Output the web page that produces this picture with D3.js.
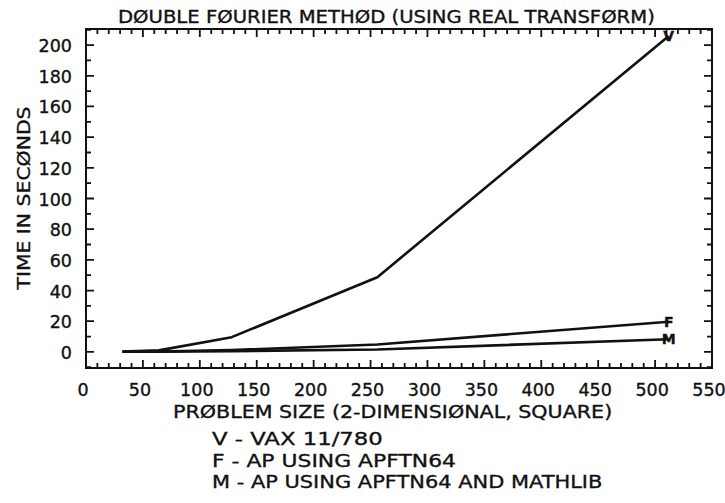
<!DOCTYPE html>
<html>
<head>
<meta charset="utf-8">
<script src="https://cdn.jsdelivr.net/npm/d3@7"></script>
<style>
  body { margin: 0; background: #fff; }
  text { font-family: "DejaVu Sans", sans-serif; fill: #111; stroke: #111; stroke-width: 0.35; }
</style>
</head>
<body>
<div id="chart"></div>
<script>
// problem sizes and timings (seconds)
var sizes = [32, 64, 128, 256, 512];
var vaxTimes = [0.3, 1.0, 9.6, 48.7, 206];
var apTimes = [0.1, 0.3, 1.2, 4.8, 19.7];
var mathlibTimes = [0.1, 0.2, 0.5, 1.6, 8.2];
var seriesMarks = ["V", "F", "M"];

var xTickLabels = [0, 50, 100, 150, 200, 250, 300, 350, 400, 450, 500, 550];
var yTickLabels = [0, 20, 40, 60, 80, 100, 120, 140, 160, 180, 200];
var legendLines = [
    "V - VAX 11/780",
    "F - AP USING APFTN64",
    "M - AP USING APFTN64 AND MATHLIB"
];

var width = 725, height = 503;
var charW = 12.2; // plotter font is monospaced
var svg = d3.select("#chart").append("svg")
    .attr("width", width)
    .attr("height", height)
    .style("background-color", "#fff");

// scales, frame is 0..550 by about -10..210
var x = d3.scaleLinear().domain([0, 550]).range([86, 712]);
var y = d3.scaleLinear().domain([-10.5, 210.5]).range([368, 29]);

// minor ticks every 10
var xMinor = d3.range(0, 551, 10);
var yMinor = d3.range(-10, 211, 10);
var x0 = x.range()[0], x1 = x.range()[1], yb = y.range()[0], yt = y.range()[1];

//Draw the frame
svg.append("rect")
    .attr("x", x0)
    .attr("y", yt)
    .attr("width", x1 - x0)
    .attr("height", yb - yt)
    .attr("fill", "none")
    .attr("stroke", "#111")
    .attr("stroke-width", 2);

//Draw the ticks on all four sides, as one path
var tickPath = d3.path();
xMinor.forEach(function (d) {
    var len = d % 50 == 0 ? 8 : 5;
    tickPath.moveTo(x(d), yb); tickPath.lineTo(x(d), yb - len);
    tickPath.moveTo(x(d), yt); tickPath.lineTo(x(d), yt + len);
});
yMinor.forEach(function (d) {
    var len = d % 20 == 0 ? 8 : 5;
    tickPath.moveTo(x0, y(d)); tickPath.lineTo(x0 + len, y(d));
    tickPath.moveTo(x1, y(d)); tickPath.lineTo(x1 - len, y(d));
});
svg.append("path")
    .attr("d", tickPath.toString())
    .attr("fill", "none")
    .attr("stroke", "#111")
    .attr("stroke-width", 1.8);

/* tick labels */
svg.selectAll("text.xl").data(xTickLabels).enter().append("text")
    .attr("class", "xl")
    .attr("x", function (d) { return x(d) - 3; })
    .attr("y", 396)
    .attr("text-anchor", "middle")
    .attr("font-size", 17.5)
    .text(function (d) { return d; });
svg.selectAll("text.yl").data(yTickLabels).enter().append("text")
    .attr("class", "yl")
    .attr("x", 72)
    .attr("y", function (d) { return y(d) + 7; })
    .attr("text-anchor", "end")
    .attr("font-size", 17.5)
    .text(function (d) { return d; });

/* lines */
var allSeries = [vaxTimes, apTimes, mathlibTimes];
var line = d3.line()
    .x(function (d, i) { return x(sizes[i]); })
    .y(function (d) { return y(d); });
svg.selectAll("path.series").data(allSeries).enter().append("path")
    .attr("class", "series")
    .attr("d", function (d) { return line(d); })
    .attr("fill", "none")
    .attr("stroke", "#111")
    .attr("stroke-width", 2.6)
    .attr("stroke-linejoin", "round");

// marker letter at the end of each line
svg.selectAll("text.mk").data(allSeries).enter().append("text")
    .attr("class", "mk")
    .attr("x", function (d) { return x(sizes[sizes.length - 1]); })
    .attr("y", function (d) { return y(d[d.length - 1]) + 5; })
    .attr("text-anchor", "middle")
    .attr("font-size", 14)
    .attr("font-weight", "bold")
    .text(function (d, i) { return seriesMarks[i]; });

/* titles */
function fixedText(str, xx, yy, size) {
    return svg.append("text")
        .attr("x", xx).attr("y", yy)
        .attr("font-size", size)
        .attr("textLength", str.length * charW)
        .attr("lengthAdjust", "spacingAndGlyphs")
        .text(str);
}
fixedText("DØUBLE FØURIER METHØD (USING REAL TRANSFØRM)", 118, 23, 17);
fixedText("PRØBLEM SIZE (2-DIMENSIØNAL, SQUARE)", 173, 418, 17.5);
legendLines.forEach(function (s, i) {
    fixedText(s, 212, 445 + i * 21.5, 18);
});

var yTitle = "TIME IN SECØNDS";
svg.append("text")
    .attr("transform", "translate(30," + (198 + yTitle.length * charW / 2) + ") rotate(-90)")
    .attr("font-size", 18)
    .attr("textLength", yTitle.length * charW)
    .attr("lengthAdjust", "spacingAndGlyphs")
    .text(yTitle);
</script>
</body>
</html>
